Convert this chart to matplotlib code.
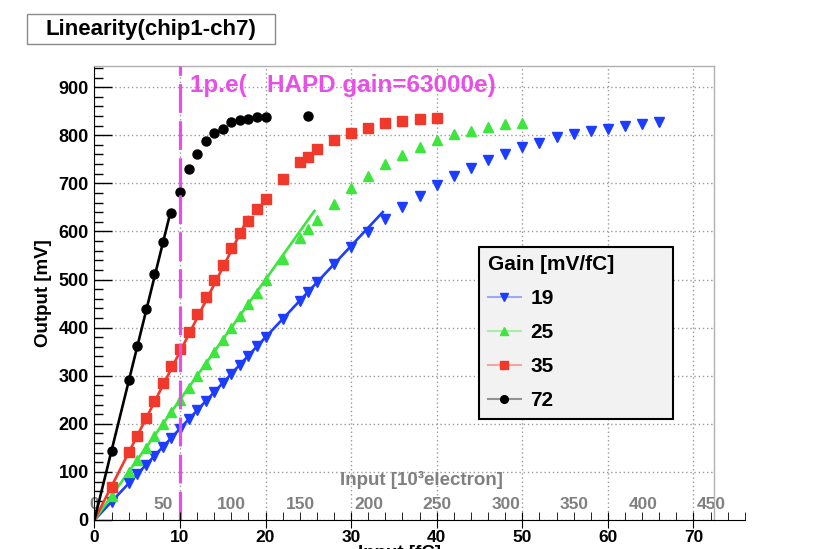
import matplotlib
matplotlib.use("Agg")
import matplotlib.pyplot as plt
from matplotlib.colors import to_rgba
from matplotlib.lines import Line2D
from matplotlib.patches import Rectangle
from matplotlib.ticker import MultipleLocator

plt.rcParams['font.family'] = ['Liberation Sans', 'DejaVu Sans']
plt.rcParams['font.weight'] = 'bold'

# input charge [fC] and output amplitude [mV] for each preamp gain setting
x_lin = [2, 4, 5, 6, 7, 8, 9, 10, 11, 12, 13, 14, 15, 16, 17, 18, 19, 20]
x_sat = [22, 24, 25, 26, 28, 30, 32, 34, 36, 38, 40, 42, 44, 46, 48, 50,
         52, 54, 56, 58, 60, 62, 64, 66]

x_19 = x_lin + x_sat
y_19 = [38, 76, 95, 114, 133, 152, 171, 190, 209, 228, 247, 266, 285, 304,
        323, 342, 361, 380,
        418, 456, 475, 494, 532, 568, 598, 625, 650, 674, 696, 715, 731, 748,
        762, 775, 784, 796, 802, 809, 814, 819, 823, 828]

x_25 = x_lin + x_sat[:16]
y_25 = [50, 100, 125, 150, 175, 200, 225, 250, 274, 300, 325, 350, 374, 400,
        424, 449, 473, 498,
        542, 586, 606, 624, 658, 690, 715, 740, 759, 776, 790, 802, 809, 818,
        823, 825]

x_35 = x_lin + x_sat[:11]
y_35 = [69, 141, 174, 212, 247, 284, 320, 355, 391, 428, 464, 500, 531, 566,
        596, 622, 646, 667,
        710, 745, 755, 771, 790, 805, 816, 825, 829, 833, 835]

x_72 = x_lin + [25]
y_72 = [143, 291, 361, 438, 511, 579, 638, 683, 729, 762, 789, 805, 812, 827,
        832, 833, 837, 837, 841]

gains = [19, 25, 35, 72]
fit_end = [33.7, 25.7, 18.0, 8.9]   # upper edge of the linear fit range [fC]
colors = ['#1c3cff', '#3ce63c', '#f0392b', '#000000']
markers = ['v', '^', 's', 'o']
msizes = [7.5, 7.5, 6.5, 6.5]
series = [(x_19, y_19), (x_25, y_25), (x_35, y_35), (x_72, y_72)]

# 1 p.e. of the HAPD (63000 e) in fC, and the electron scale labels
pe_charge = 10.0
fc_per_ke = 0.1602
ke_ticks = [0, 50, 100, 150, 200, 250, 300, 350, 400, 450]

fig = plt.figure(figsize=(8.14, 5.49), dpi=100)
L, B = 94.4 / 814, 29 / 549
W, H = 619.6 / 814, 454 / 549
ax = fig.add_axes([L, B, W, H])
ax.set_xlim(0, 72.4)
ax.set_ylim(0, 944)

ax.xaxis.set_major_locator(MultipleLocator(10))
ax.yaxis.set_major_locator(MultipleLocator(100))
ax.yaxis.set_minor_locator(MultipleLocator(20))
ax.grid(True, which='major', color='#9a9a9a', lw=1, ls=(0, (1, 2)))
ax.tick_params(axis='x', which='both', length=0, labelbottom=False)
ax.tick_params(axis='y', which='major', direction='in', length=13, width=1,
               labelsize=13, pad=4)
ax.tick_params(axis='y', which='minor', direction='in', length=6.5, width=1)
ax.spines['bottom'].set_visible(False)
ax.spines['left'].set_color('black')
for s in ['top', 'right']:
    ax.spines[s].set_color('#b0b0b0')
    ax.spines[s].set_linewidth(1)
ax.set_ylabel('Output [mV]', fontsize=13.5, fontweight='bold', labelpad=5)

for (xs, ys), g, xe, c, m, ms in zip(series, gains, fit_end, colors, markers, msizes):
    ax.plot([0, xe], [0, g * xe], color=c, lw=1.9, zorder=3)
    ax.plot(xs, ys, ls='none', marker=m, ms=ms, color=c, mec=c, zorder=4)

ax.axvline(pe_charge, color='#e650e6', lw=2.3, dashes=(9, 2.6), zorder=5)
ax.text(11.2, 890, '1p.e(   HAPD gain=63000e)', color='#e650e6',
        fontsize=17.5, fontweight='bold', zorder=6)

# electron scale drawn on top of the charge axis
sec = ax.secondary_xaxis(0.0, functions=(lambda v: v / fc_per_ke,
                                         lambda v: v * fc_per_ke))
sec.set_alignment('top')
sec.spines['top'].set_visible(False)
sec.set_xticks(ke_ticks)
sec.tick_params(axis='x', length=0, pad=6, labelcolor='#808080', labelsize=12.5)
ax.text(47.7, 83, 'Input [10³electron]', color='#808080', fontsize=13.5,
        ha='right', va='center')

# charge axis, longer than the frame
axx = fig.add_axes([L, B, 76 * W / 72.4, 1e-4])
axx.set_xlim(0, 76)
axx.patch.set_visible(False)
for s in ['top', 'left', 'right']:
    axx.spines[s].set_visible(False)
axx.yaxis.set_visible(False)
axx.set_xticks(range(0, 71, 10))
axx.xaxis.set_minor_locator(MultipleLocator(2))
axx.tick_params(axis='x', which='major', direction='inout', length=12,
                labelsize=12.5, pad=1)
axx.tick_params(axis='x', which='minor', direction='in', length=6)
fig.text(400 / 814, 1 - 545 / 549, 'Input [fC]', fontsize=13.5, ha='center', va='top')

# legend entries: pale line, solid marker
handles = [Line2D([], [], color=to_rgba(c, 0.4), lw=1.5, marker=m, ms=ms * 0.85,
                  mfc=c, mec=c) for c, m, ms in zip(colors, markers, msizes)]
leg = ax.legend(handles, [str(g) for g in gains], title='Gain [mV/fC]',
                loc='upper left', bbox_to_anchor=(0.621, 0.601, 0.313, 0.0),
                mode='expand', borderaxespad=0, borderpad=0.4,
                fontsize=15, title_fontsize=15, handlelength=1.6,
                handletextpad=0.45, labelspacing=0.72, alignment='left',
                fancybox=False, framealpha=1, facecolor='#f2f2f2',
                edgecolor='black')
leg.get_frame().set_linewidth(1.5)
leg.get_title().set_fontweight('bold')
leg.set_zorder(10)

fig.add_artist(Rectangle((27 / 814, 1 - 44 / 549), 248 / 814, 30 / 549,
                         transform=fig.transFigure, fc='white', ec='#8a8a8a', lw=1))
fig.text(151 / 814, 1 - 29 / 549, 'Linearity(chip1-ch7)', fontsize=16,
         ha='center', va='center')

fig.savefig('out.png', dpi=100)
